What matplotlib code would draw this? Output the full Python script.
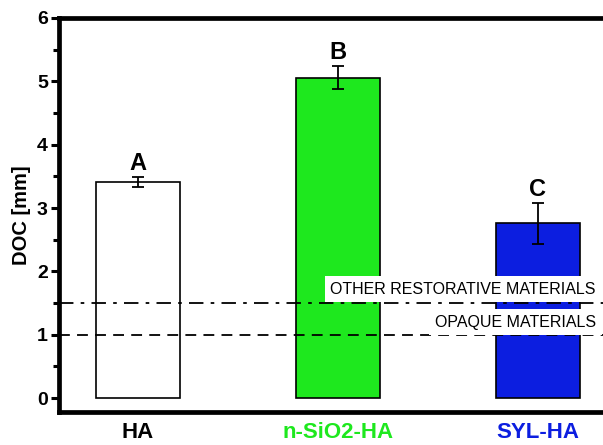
import matplotlib.pyplot as plt

plt.rcParams['font.family'] = ['Liberation Sans', 'DejaVu Sans']

groups = ['HA', 'n-SiO2-HA', 'SYL-HA']
doc_mean = [3.41, 5.06, 2.76]
doc_err = [0.08, 0.18, 0.32]
letters = ['A', 'B', 'C']
bar_colors = ['white', '#1ee81e', '#0c1ee0']
label_colors = ['black', '#1ee81e', '#0c1ee0']

opaque_level = 1.0
other_level = 1.5

fig = plt.figure(figsize=(6.03, 4.45), dpi=100)
ax = fig.add_axes([59 / 603, 33 / 445, 579 / 603, 394 / 445])

x = range(len(groups))
ax.bar(x, doc_mean, width=0.42, color=bar_colors, edgecolor='black', linewidth=1.2, zorder=2)
ax.errorbar(x, doc_mean, yerr=doc_err, fmt='none', ecolor='black', elinewidth=1.3,
            capsize=4, capthick=1.3, zorder=3)
for xi, m, e, t in zip(x, doc_mean, doc_err, letters):
    ax.text(xi, m + e + 0.03, t, ha='center', va='bottom', fontsize=17, fontweight='bold')

ax.axhline(other_level, color='black', lw=1.3, ls=(0, (8, 4, 2, 4)), zorder=4)
ax.axhline(opaque_level, color='black', lw=1.3, ls=(0, (6, 4)), zorder=4)
ax.text(2.29, 1.72, 'OTHER RESTORATIVE MATERIALS', ha='right', va='center', fontsize=11.5,
        zorder=5, bbox=dict(facecolor='white', edgecolor='none', pad=4))
ax.text(2.29, 1.2, 'OPAQUE MATERIALS', ha='right', va='center', fontsize=11.5,
        zorder=5, bbox=dict(facecolor='white', edgecolor='none', pad=4))

ax.set_xlim(-0.395, 2.5)
ax.set_ylim(-0.22, 6)
ax.set_yticks(range(7))
ax.set_yticks([i + 0.5 for i in range(6)], minor=True)
ax.set_xticks(list(x))
ax.set_xticklabels(groups, fontsize=16, fontweight='bold')
for lab, c in zip(ax.get_xticklabels(), label_colors):
    lab.set_color(c)
ax.tick_params(axis='x', length=0, pad=7)
ax.tick_params(axis='y', which='major', length=6, width=2.2, labelsize=14, pad=2)
ax.tick_params(axis='y', which='minor', length=4, width=2.2)
for lab in ax.get_yticklabels():
    lab.set_fontweight('bold')
ax.set_ylabel('DOC [mm]', fontsize=14.5, fontweight='bold', labelpad=4)

for side in ['left', 'top', 'bottom', 'right']:
    ax.spines[side].set_linewidth(3.4)

fig.savefig('out.png', dpi=100)
